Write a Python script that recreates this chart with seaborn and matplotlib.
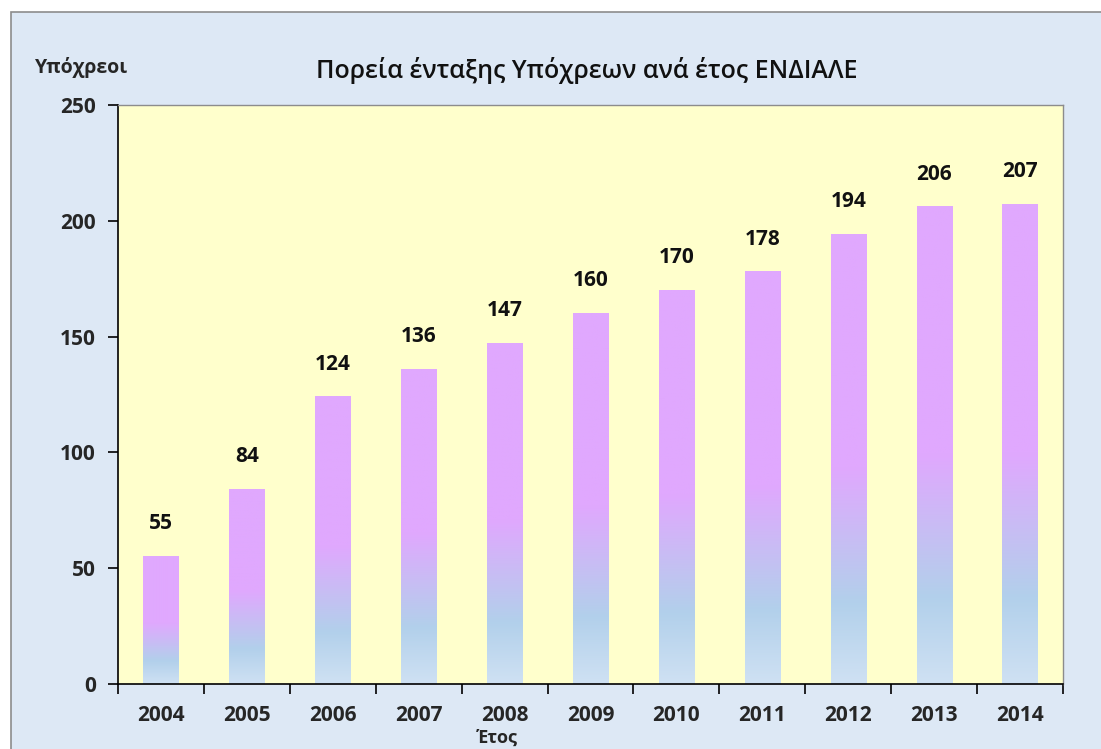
import numpy as np
import pandas as pd
import matplotlib
matplotlib.use("Agg")
import matplotlib.pyplot as plt
from matplotlib.colors import LinearSegmentedColormap
from matplotlib.patches import Rectangle
import seaborn as sns

# data
years = ["2004", "2005", "2006", "2007", "2008", "2009", "2010", "2011", "2012", "2013", "2014"]
obligated = [55, 84, 124, 136, 147, 160, 170, 178, 194, 206, 207]

title = "Πορεία ένταξης Υπόχρεων ανά έτος ΕΝΔΙΑΛΕ"
ylabel = "Υπόχρεοι"
xlabel = "Έτος"

sns.set_style("white")
plt.rcParams["font.family"] = ["Open Sans", "DejaVu Sans"]

df = pd.DataFrame({"year": years, "value": obligated})

fig = plt.figure(figsize=(11.01, 7.49), dpi=100)
fig.patch.set_facecolor("white")
# light blue chart frame
fig.patches.append(Rectangle((11 / 1101, -0.01), 1.0, 1 - 12 / 749 + 0.01,
                             transform=fig.transFigure, facecolor="#dde8f5",
                             edgecolor="#8c8c8c", linewidth=1.2, zorder=-10))

ax = fig.add_axes([118 / 1101, 1 - 684 / 749, (1063 - 118) / 1101, (684 - 105) / 749])
ax.set_facecolor("#ffffcc")

sns.barplot(data=df, x="year", y="value", color="#e0a8fe", width=0.41, ax=ax)

# vertical gradient inside each bar (light blue bottom -> violet top)
cmap = LinearSegmentedColormap.from_list(
    "bar", [(0.0, "#cfe1f3"), (0.18, "#b2d0eb"), (0.48, "#e0a8fe"), (1.0, "#e0a8fe")])
grad = np.linspace(0, 1, 256).reshape(-1, 1)
for p in ax.patches:
    x0, y0 = p.get_x(), p.get_y()
    w, h = p.get_width(), p.get_height()
    ax.imshow(grad, extent=[x0, x0 + w, y0, y0 + h], origin="lower",
              aspect="auto", cmap=cmap, zorder=2)
    p.set_facecolor("none")
    p.set_edgecolor("none")

for i, v in enumerate(obligated):
    ax.annotate(str(v), (i, v), xytext=(0, 16), textcoords="offset points",
                ha="center", va="bottom", fontsize=15, fontweight="bold", color="#111111")

ax.set_xlim(-0.5, len(years) - 0.5)
ax.set_ylim(0, 250)
ax.set_yticks(range(0, 251, 50))

# ticks between categories on x
ax.set_xticks(np.arange(-0.5, len(years), 1.0), minor=True)
ax.tick_params(axis="x", which="major", bottom=True, length=0, pad=15, labelsize=15)
ax.tick_params(axis="x", which="minor", bottom=True, length=7, width=1.2,
               color="black", direction="out")
ax.tick_params(axis="y", left=True, length=7, width=1.2, color="black",
               direction="out", pad=9, labelsize=15)
for lab in ax.get_xticklabels() + ax.get_yticklabels():
    lab.set_fontweight("bold")

for s in ["left", "bottom"]:
    ax.spines[s].set_color("black")
    ax.spines[s].set_linewidth(1.2)
for s in ["top", "right"]:
    ax.spines[s].set_color("#8c8c8c")
    ax.spines[s].set_linewidth(1.0)

ax.set_xlabel("")
ax.set_ylabel("")
fig.text(82 / 1101, 1 - 67 / 749, ylabel, ha="center", va="center",
         fontsize=14, fontweight="bold")
fig.text(587 / 1101, 1 - 70 / 749, title, ha="center", va="center",
         fontsize=18, fontweight="semibold", color="#111111")
fig.text(497 / 1101, 1 - 738 / 749, xlabel, ha="center", va="center",
         fontsize=13, fontweight="bold")

fig.savefig("out.png", dpi=100)
